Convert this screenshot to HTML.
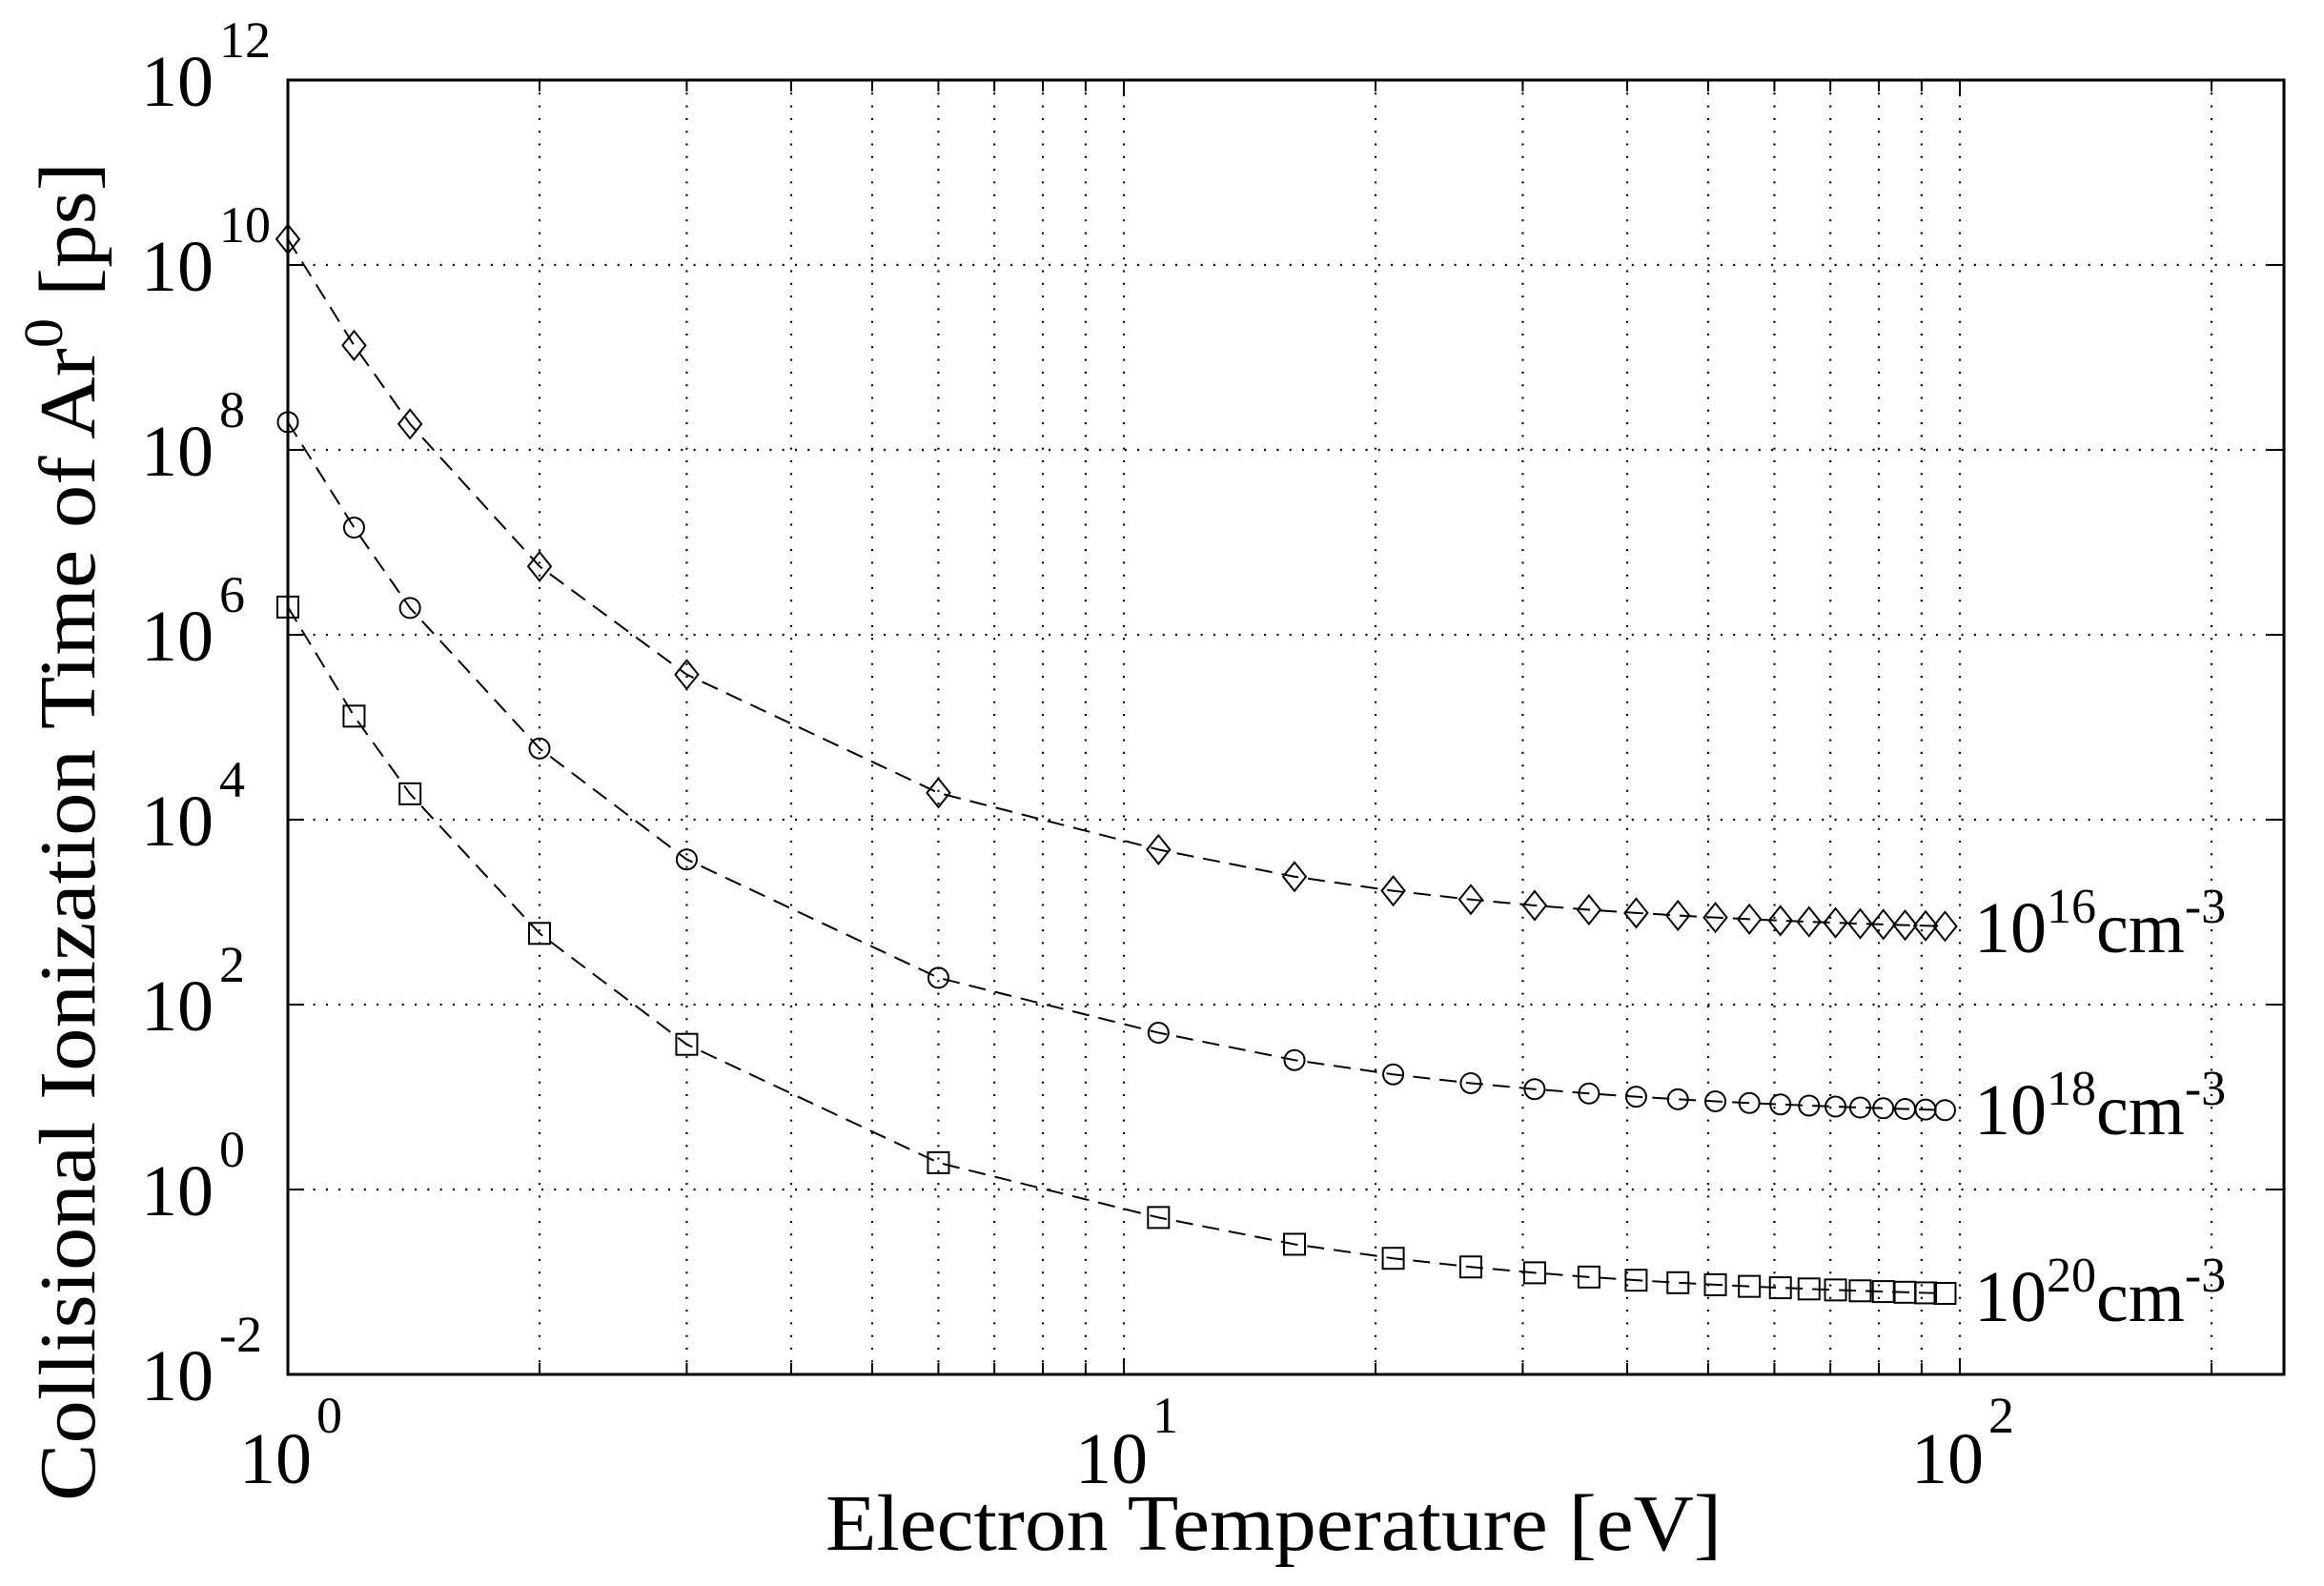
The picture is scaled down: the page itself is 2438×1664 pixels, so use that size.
<!DOCTYPE html>
<html><head><meta charset="utf-8"><style>html,body{margin:0;padding:0;background:#fff}svg{display:block}</style></head>
<body>
<svg id="s" width="2438" height="1664" xmlns="http://www.w3.org/2000/svg" font-family="'Liberation Serif',serif"></svg>
<script>
const L=302,T=84,R=2396,B=1442,DX=877,DY=97;
const X=t=>L+DX*Math.log10(t), Y=v=>T+(12-v)*DY;
let h='<rect width="2438" height="1664" fill="#fff"/>';
for(const d of [1,10,100]) for(let k=1;k<10;k++){const t=d*k;if(t<=1||t>250)continue;const x=X(t);
 if(x>=R)continue;
 h+=`<line x1="${x}" y1="${T}" x2="${x}" y2="${B}" stroke="#000" stroke-width="2.2" stroke-dasharray="2 11.3"/>`;
 const tl=(k==1)?17:12;
 h+=`<line x1="${x}" y1="${B}" x2="${x}" y2="${B-tl}" stroke="#000" stroke-width="2"/><line x1="${x}" y1="${T}" x2="${x}" y2="${T+tl}" stroke="#000" stroke-width="2"/>`;}
for(let v=-2;v<=12;v+=2){const y=Y(v);
 if(v>-2&&v<12){h+=`<line x1="${L}" y1="${y}" x2="${R}" y2="${y}" stroke="#000" stroke-width="2.2" stroke-dasharray="2 11.3"/>`;
 h+=`<line x1="${L}" y1="${y}" x2="${L+17}" y2="${y}" stroke="#000" stroke-width="2"/><line x1="${R}" y1="${y}" x2="${R-17}" y2="${y}" stroke="#000" stroke-width="2"/>`;}
 h+=`<text x="224" y="${y+27}" font-size="76" text-anchor="end">10</text><text x="230" y="${y-24}" font-size="54">${v}</text>`;}
[[0,1],[1,10],[2,100]].forEach(([e,t])=>{const x=X(t);
 h+=`<text x="${x-13}" y="1556" font-size="76" text-anchor="middle">10</text><text x="${x+30}" y="1503" font-size="54">${e}</text>`;});
h+=`<rect x="${L}" y="${T}" width="${R-L}" height="${B-T}" fill="none" stroke="#000" stroke-width="3"/>`;
const Ts=[1,1.2,1.4,2,3,6];for(let t=11;t<=96;t+=5)Ts.push(t);
const head={d:[10.28,9.13,8.28,6.74,5.57,4.29],c:[8.3,7.16,6.29,4.77,3.57,2.29],s:[6.3,5.12,4.28,2.77,1.57,0.29]};
const tail={d:[2.74,10.3],c:[0.75,10.4],s:[-1.23,10.2]};
for(const k of ['d','c','s']){
 const vs=Ts.map((t,i)=>i<6?head[k][i]:tail[k][0]+tail[k][1]/t);
 const pts=Ts.map((t,i)=>[X(t),Y(vs[i])]);
 h+=`<polyline points="${pts.map(p=>p.join(',')).join(' ')}" fill="none" stroke="#000" stroke-width="2" stroke-dasharray="18 10"/>`;
 for(const [x,y] of pts){
  if(k=='d')h+=`<polygon points="${x},${y-15} ${x+12},${y} ${x},${y+15} ${x-12},${y}" fill="none" stroke="#000" stroke-width="2"/>`;
  else if(k=='c')h+=`<circle cx="${x}" cy="${y}" r="10.5" fill="none" stroke="#000" stroke-width="2"/>`;
  else h+=`<rect x="${x-11}" y="${y-11}" width="22" height="22" fill="none" stroke="#000" stroke-width="2"/>`;}
}
[[16,999],[18,1190],[20,1386]].forEach(([e,y])=>{
 h+=`<text x="2071" y="${y}" font-size="76">10<tspan font-size="52" dy="-31">${e}</tspan><tspan font-size="76" dy="31">cm</tspan><tspan font-size="52" dy="-31">-3</tspan></text>`;});
h+=`<text x="1336" y="1626" font-size="84" text-anchor="middle" textLength="940" lengthAdjust="spacingAndGlyphs">Electron Temperature [eV]</text>`;
h+=`<text transform="translate(99,1575) rotate(-90)" font-size="84" textLength="1405" lengthAdjust="spacingAndGlyphs">Collisional Ionization Time of Ar<tspan font-size="58" dy="-34">0</tspan><tspan dy="34"> [ps]</tspan></text>`;
document.getElementById('s').innerHTML=h;
</script>
</body></html>
